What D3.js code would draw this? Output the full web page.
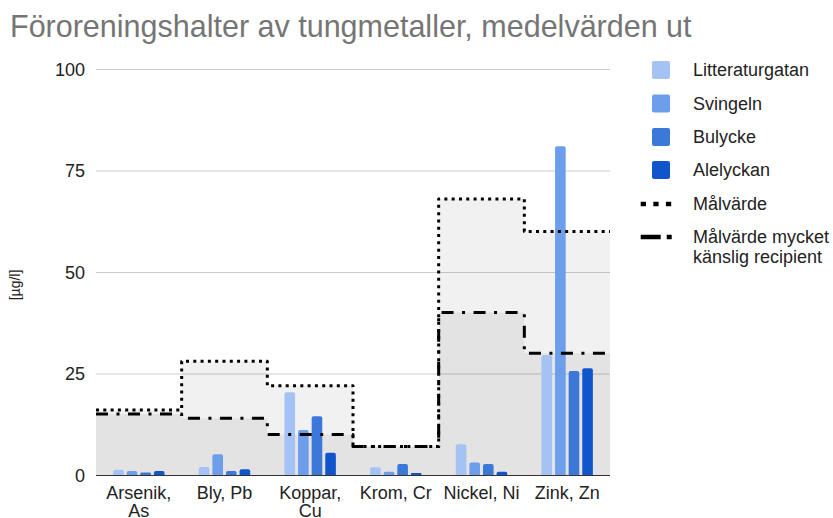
<!DOCTYPE html>
<html>
<head>
<meta charset="utf-8">
<script src="https://cdn.jsdelivr.net/npm/d3@7"></script>
<style>
  body { margin: 0; background: #fff; }
  svg { font-family: Arial, "Liberation Sans", sans-serif; }
</style>
</head>
<body>
<svg id="chart" width="833" height="518"></svg>
<script>
"use strict";

// categories and series
const categories = ["Arsenik, As", "Bly, Pb", "Koppar, Cu", "Krom, Cr", "Nickel, Ni", "Zink, Zn"];
const barSeries = ["Litteraturgatan", "Svingeln", "Bulycke", "Alelyckan"];
const litteraturgatan = [1.3, 2.0, 20.4, 1.9, 7.6, 29.5];
const svingeln = [1.0, 5.1, 11.1, 0.8, 3.1, 81];
const bulycke = [0.6, 1.0, 14.5, 2.7, 2.7, 25.6];
const alelyckan = [1.0, 1.4, 5.5, 0.5, 0.8, 26.3];
const malvarde = [16, 28, 22, 7, 68, 60];
const malvardeKanslig = [15, 14, 10, 7, 40, 30];
const yTicks = [0, 25, 50, 75, 100];

(function()
{
	const barValues = [litteraturgatan, svingeln, bulycke, alelyckan];
	const barColors = ["#a4c2f4", "#6d9eeb", "#3c78d8", "#1155cc"];

	const svg = d3.select("#chart");
	const plotLeft = 96, plotRight = 610, plotTop = 69, plotBottom = 475;

	const x = d3.scaleBand().domain(categories).range([plotLeft, plotRight]).padding(0);
	const y = d3.scaleLinear().domain([0, 100]).range([plotBottom, plotTop]);
	const bw = x.bandwidth();
	const groupW = bw * 0.6;
	const x1 = d3.scaleBand().domain(barSeries)
		.range([(bw - groupW) / 2, (bw + groupW) / 2])
		.paddingInner(0.22);

	//title
	svg.append("text")
		.attr("x", 10).attr("y", 36.5)
		.attr("fill", "#757575")
		.attr("font-size", 30.5)
		.text("Föroreningshalter av tungmetaller, medelvärden ut");

	//gridlines + y labels
	const yAxis = svg.append("g");
	for (let t of yTicks)
	{
		if (t !== 0)
		{
			yAxis.append("line")
				.attr("x1", plotLeft).attr("x2", plotRight)
				.attr("y1", y(t) + 0.5).attr("y2", y(t) + 0.5)
				.attr("stroke", "#ccc")
				.attr("stroke-width", 1);
		}
		yAxis.append("text")
			.attr("x", 85).attr("y", y(t) + 6.5)
			.attr("text-anchor", "end")
			.attr("font-size", 18)
			.attr("fill", "#222")
			.text(t);
	}

	svg.append("text")
		.attr("transform", "translate(20,285) rotate(-90)")
		.attr("text-anchor", "middle")
		.attr("font-size", 14)
		.attr("fill", "#222")
		.text("[µg/l]");

	//stepped areas
	function stepPoints(vals)
	{
		let pts = vals.map((v, i) => [x(categories[i]), y(v)]);
		pts.push([plotRight, y(vals[vals.length - 1])]);
		return pts;
	}
	const area = d3.area().curve(d3.curveStepAfter)
		.x(d => d[0]).y0(y(0)).y1(d => d[1]);
	const line = d3.line().curve(d3.curveStepAfter)
		.x(d => d[0]).y(d => d[1]);

	const areas = svg.append("g");
	for (let vals of [malvarde, malvardeKanslig])
	{
		areas.append("path")
			.attr("d", area(stepPoints(vals)))
			.attr("fill", "#000")
			.attr("fill-opacity", 0.055);
	}

	//bars
	const bars = svg.append("g");
	barValues.forEach(function(vals, s)
	{
		vals.forEach(function(v, i)
		{
			let bx = x(categories[i]) + x1(barSeries[s]);
			let w = x1.bandwidth();
			let h = y(0) - y(v);
			let r = Math.min(2, h / 2, w / 2);
			bars.append("path")
				.attr("fill", barColors[s])
				.attr("d", "M" + bx + "," + y(0) +
					"V" + (y(v) + r) +
					"Q" + bx + "," + y(v) + " " + (bx + r) + "," + y(v) +
					"H" + (bx + w - r) +
					"Q" + (bx + w) + "," + y(v) + " " + (bx + w) + "," + (y(v) + r) +
					"V" + y(0) + "Z");
		});
	});

	//baseline on top of bars
	svg.append("line")
		.attr("x1", plotLeft).attr("x2", plotRight)
		.attr("y1", y(0) + 0.5).attr("y2", y(0) + 0.5)
		.attr("stroke", "#333");

	//step lines
	const lines = svg.append("g")
		.attr("fill", "none")
		.attr("stroke", "#000")
		.attr("stroke-width", 3)
		.attr("stroke-linejoin", "round");
	lines.append("path")
		.attr("d", line(stepPoints(malvarde)))
		.attr("stroke-dasharray", "3,4.3");
	lines.append("path")
		.attr("d", line(stepPoints(malvardeKanslig)))
		.attr("stroke-dasharray", "12,8.5,3,8.5");

	//x labels
	const xl = svg.append("g")
		.attr("font-size", 18)
		.attr("fill", "#222")
		.attr("text-anchor", "middle");
	for (let c of categories)
	{
		let cx = x(c) + bw / 2;
		let t = xl.append("text")
			.attr("x", cx)
			.attr("y", 498.5)
			.text(c);
		if (t.node().getComputedTextLength() > bw - 4)
		{
			let k = c.lastIndexOf(" ");
			t.text(null);
			t.append("tspan").attr("x", cx).attr("y", 498.5).text(c.slice(0, k));
			t.append("tspan").attr("x", cx).attr("y", 516.5).text(c.slice(k + 1));
		}
	}

	//legend
	const legend = svg.append("g").attr("font-size", 18).attr("fill", "#222");
	const rowY = [70, 103.5, 137, 170, 204, 237];
	barSeries.forEach(function(name, i)
	{
		legend.append("rect")
			.attr("x", 652).attr("y", rowY[i] - 9)
			.attr("width", 18).attr("height", 18)
			.attr("rx", 2)
			.attr("fill", barColors[i]);
		legend.append("text")
			.attr("x", 693).attr("y", rowY[i] + 6)
			.text(name);
	});
	legend.append("line")
		.attr("x1", 640.7).attr("x2", 673)
		.attr("y1", rowY[4]).attr("y2", rowY[4])
		.attr("stroke", "#000").attr("stroke-width", 4.5)
		.attr("stroke-dasharray", "5.3,7.3");
	legend.append("text")
		.attr("x", 693).attr("y", rowY[4] + 6)
		.text("Målvärde");
	legend.append("line")
		.attr("x1", 640.7).attr("x2", 672)
		.attr("y1", rowY[5]).attr("y2", rowY[5])
		.attr("stroke", "#000").attr("stroke-width", 4.5)
		.attr("stroke-dasharray", "20,6,5,20");
	legend.append("text")
		.attr("x", 693).attr("y", rowY[5] + 6)
		.text("Målvärde mycket");
	legend.append("text")
		.attr("x", 693).attr("y", rowY[5] + 26)
		.text("känslig recipient");
})();
</script>
</body>
</html>
